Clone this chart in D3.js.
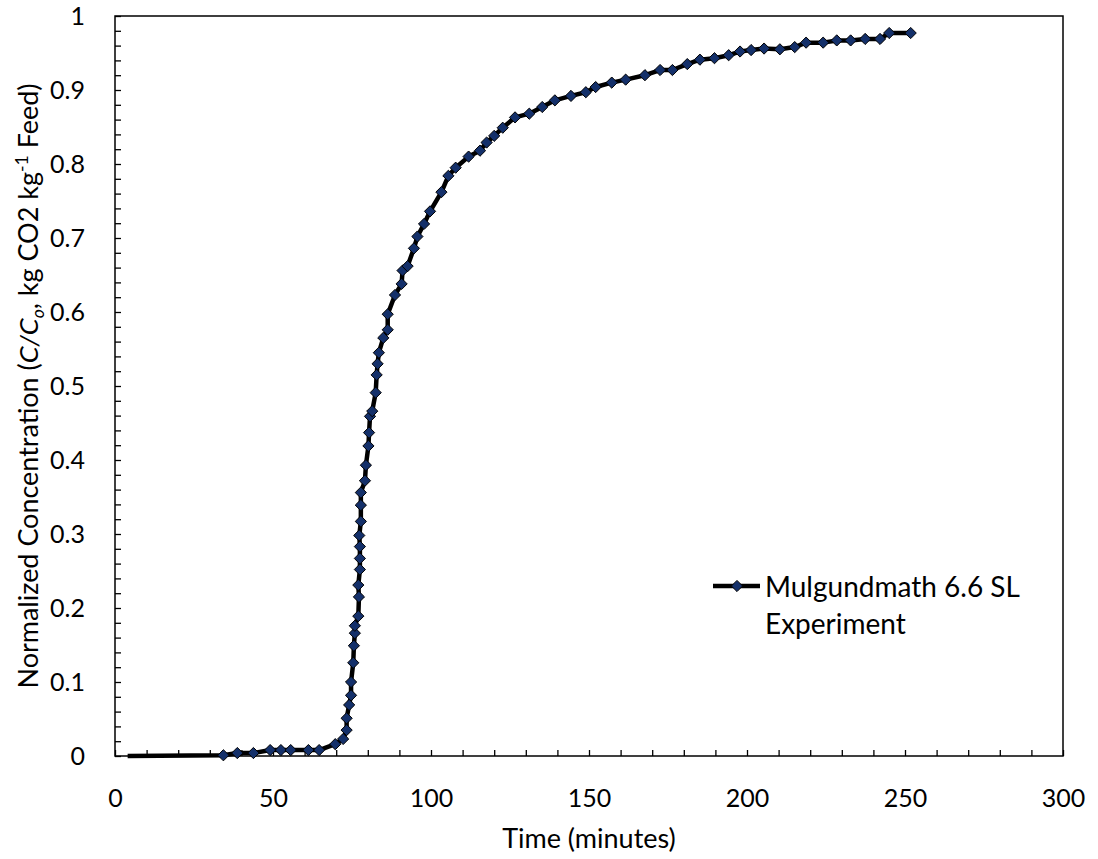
<!DOCTYPE html>
<html>
<head>
<meta charset="utf-8">
<script src="https://cdn.jsdelivr.net/npm/d3@7"></script>
<style>
  body { margin: 0; background: #fff; }
  text { font-family: Lato, "Open Sans", sans-serif; fill: #000; }
</style>
</head>
<body>
<div id="chart"></div>
<script>
// breakthrough curve
const leadTime = [4, 34.3]
const leadValue = [0, 0.001]

const time = [34.3, 38.7, 43.8, 49.1, 52.5, 55.6, 61.2, 64.6, 69.7, 72.2,
  73.3, 73.3, 74.1, 74.7, 74.7, 75.4, 75.6, 75.9, 75.9, 77.0,
  77.2, 77.0, 77.5, 77.5, 77.5, 77.3, 77.8, 77.8, 77.8, 79.1,
  79.4, 80.2, 80.4, 80.7, 81.4, 82.5, 82.8, 83.1, 83.5, 84.9,
  86.3, 86.3, 88.6, 90.7, 91.0, 92.6, 94.6, 95.7, 97.8, 99.7,
  103.3, 105.5, 107.8, 111.9, 115.5, 117.6, 120.0, 122.7, 126.6, 131.1,
  135.2, 139.2, 144.3, 149.0, 152.1, 157.2, 161.6, 167.7, 172.5, 176.4,
  181.1, 185.1, 189.7, 194.2, 197.8, 201.3, 205.4, 210.4, 215.1, 218.7,
  224.1, 228.4, 232.8, 237.4, 242.1, 245.0, 251.8]

const conc = [0.001, 0.004, 0.004, 0.008, 0.008, 0.008, 0.008, 0.008, 0.016, 0.023,
  0.035, 0.051, 0.069, 0.082, 0.100, 0.126, 0.149, 0.166, 0.176, 0.189,
  0.215, 0.231, 0.252, 0.267, 0.283, 0.298, 0.317, 0.339, 0.356, 0.372,
  0.393, 0.419, 0.437, 0.459, 0.466, 0.491, 0.515, 0.530, 0.545, 0.565,
  0.576, 0.597, 0.623, 0.638, 0.656, 0.662, 0.686, 0.702, 0.719, 0.736,
  0.762, 0.784, 0.795, 0.810, 0.818, 0.829, 0.838, 0.849, 0.863, 0.868,
  0.877, 0.886, 0.892, 0.897, 0.904, 0.910, 0.914, 0.920, 0.927, 0.927,
  0.935, 0.941, 0.943, 0.947, 0.952, 0.954, 0.956, 0.955, 0.958, 0.964,
  0.964, 0.967, 0.967, 0.969, 0.969, 0.977, 0.977]

const xTicks = [0, 50, 100, 150, 200, 250, 300]
const yTicks = [0, 0.1, 0.2, 0.3, 0.4, 0.5, 0.6, 0.7, 0.8, 0.9, 1]
const legendLines = ['Mulgundmath 6.6 SL', 'Experiment']

const margin = { top: 16, right: 35, bottom: 103, left: 115 }
const width = 1098 - margin.left - margin.right
const height = 859 - margin.top - margin.bottom

const svg = d3.select('#chart').append('svg')
  .attr('width', 1098)
  .attr('height', 859)

const g = svg.append('g')
  .attr('transform', `translate(${margin.left},${margin.top})`)

const x = d3.scaleLinear().domain([0, 300]).range([0, width])
const y = d3.scaleLinear().domain([0, 1]).range([height, 0])

// minor ticks (inside)
g.append('g')
  .attr('transform', `translate(0,${height})`)
  .call(d3.axisBottom(x).tickValues(d3.range(0, 301, 10)).tickSize(-6).tickFormat(''))
  .call(a => a.select('.domain').remove())
  .selectAll('line').attr('stroke', '#000').attr('stroke-width', 1.3)

g.append('g')
  .call(d3.axisLeft(y).tickValues(d3.range(0, 51).map(i => i / 50)).tickSize(-6).tickFormat(''))
  .call(a => a.select('.domain').remove())
  .selectAll('line').attr('stroke', '#000').attr('stroke-width', 1.3)

// tick labels
const xLab = g.append('g')
  .attr('transform', `translate(0,${height})`)
  .call(d3.axisBottom(x).tickValues(xTicks).tickSize(0).tickFormat(d3.format('d')))
xLab.select('.domain').remove()
xLab.selectAll('text')
  .attr('y', 51).attr('dy', 0)
  .style('font-size', '25px').style('font-family', 'Lato, sans-serif')

const yLab = g.append('g')
  .call(d3.axisLeft(y).tickValues(yTicks).tickSize(0).tickFormat(d => d === 0 || d === 1 ? d3.format('d')(d) : d3.format('.1f')(d)))
yLab.select('.domain').remove()
yLab.selectAll('text')
  .attr('x', -30).attr('dy', '0.35em')
  .style('font-size', '25px').style('font-family', 'Lato, sans-serif')

// plot frame
g.append('rect')
  .attr('width', width).attr('height', height)
  .attr('fill', 'none').attr('stroke', '#000').attr('stroke-width', 1.5)

// axis titles
g.append('text')
  .attr('x', width / 2).attr('y', height + 92)
  .attr('text-anchor', 'middle')
  .style('font-size', '27px')
  .text('Time (minutes)')

const yTitle = svg.append('text')
  .attr('transform', `translate(38,${margin.top + height / 2}) rotate(-90)`)
  .attr('text-anchor', 'middle')
  .style('font-size', '26px')
yTitle.append('tspan').text('Normalized Concentration (')
yTitle.append('tspan').style('font-style', 'italic').text('C/C')
yTitle.append('tspan').style('font-style', 'italic').style('font-size', '17px').attr('dy', 6).text('o')
yTitle.append('tspan').attr('dy', -6).text(', kg CO2 kg')
yTitle.append('tspan').style('font-size', '17px').attr('dy', -10).text('-1')
yTitle.append('tspan').attr('dy', 10).text(' Feed)')
// squeeze to the length seen in the picture
const yLen = yTitle.node().getComputedTextLength()
yTitle.attr('textLength', 605).attr('lengthAdjust', 'spacingAndGlyphs')
if (Math.abs(yLen - 605) > 60) yTitle.style('font-size', (26 * 605 / yLen) + 'px')

// series
const pts = time.map((t, i) => ({ t, v: conc[i] }))
const lead = leadTime.map((t, i) => ({ t, v: leadValue[i] }))
const line = d3.line().x(d => x(d.t)).y(d => y(d.v))

g.append('path')
  .datum(lead.concat(pts.slice(1)))
  .attr('d', line)
  .attr('fill', 'none')
  .attr('stroke', '#000')
  .attr('stroke-width', 4.5)
  .attr('stroke-linejoin', 'round')

const diamond = d3.symbol().type(d3.symbolDiamond2).size(80)
g.selectAll('.pt')
  .data(pts)
  .enter()
  .append('path')
  .attr('class', 'pt')
  .attr('d', diamond)
  .attr('transform', d => `translate(${x(d.t)},${y(d.v)})`)
  .attr('fill', '#14306a')
  .attr('stroke', '#000')
  .attr('stroke-width', 1)

// legend
const lg = svg.append('g').attr('transform', 'translate(713,586)')
lg.append('line').attr('x1', 0).attr('x2', 47)
  .attr('stroke', '#000').attr('stroke-width', 4.5)
lg.append('path').attr('d', diamond).attr('transform', 'translate(24,0)')
  .attr('fill', '#14306a').attr('stroke', '#000').attr('stroke-width', 1)
lg.selectAll('text.lg')
  .data(legendLines)
  .enter()
  .append('text')
  .attr('class', 'lg')
  .attr('x', 52)
  .attr('y', (d, i) => 11 + i * 37)
  .style('font-size', '28px')
  .text(d => d)
</script>
</body>
</html>
